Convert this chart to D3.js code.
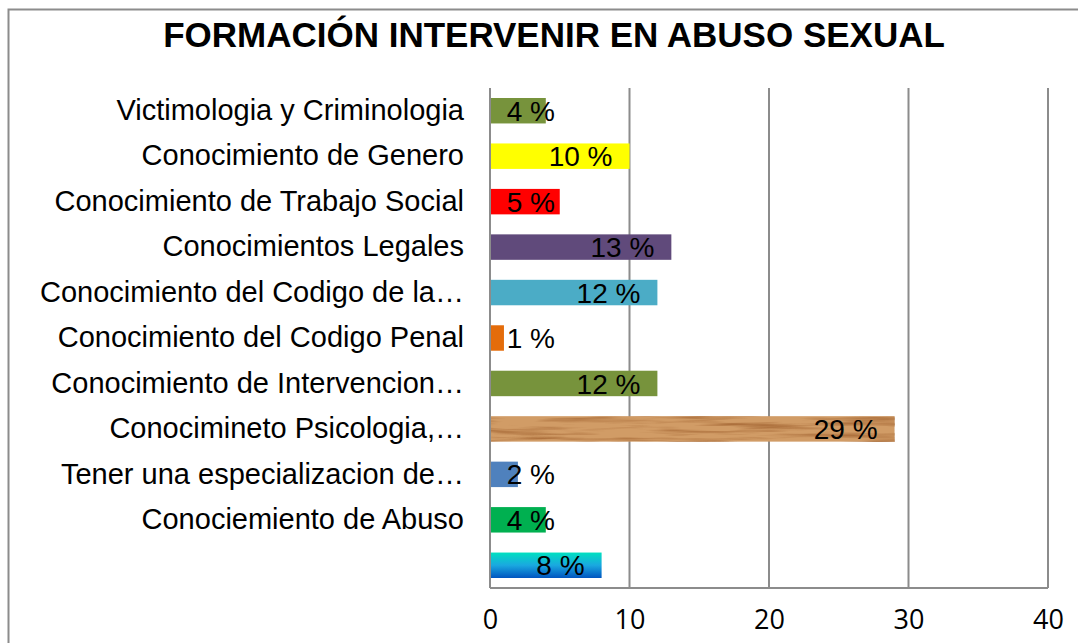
<!DOCTYPE html>
<html>
<head>
<meta charset="utf-8">
<script src="https://cdn.jsdelivr.net/npm/d3@7.9.0/dist/d3.min.js"></script>
<style>
  body { margin: 0; background: #fff; }
  text { font-family: "Liberation Sans", Arial, sans-serif; }
</style>
</head>
<body>
<svg id="chart" width="1078" height="643"></svg>
<script>
const categories = [
  "Victimologia y Criminologia",
  "Conocimiento de Genero",
  "Conocimiento de Trabajo Social",
  "Conocimientos Legales",
  "Conocimiento del Codigo de la…",
  "Conocimiento del Codigo Penal",
  "Conocimiento de Intervencion…",
  "Conocimineto Psicologia,…",
  "Tener una especializacion de…",
  "Conociemiento de Abuso",
  ""
];
const values = [4, 10, 5, 13, 12, 1, 12, 29, 2, 4, 8];
const barColors = ["#77933C", "#FFFF00", "#FF0000", "#604A7B", "#4BACC6", "#E46C0A",
  "#77933C", "#D19C66", "#4F81BD", "#00B050", "url(#cyanBlue)"];
const woodBar = 7; // the textured bar
const xTicks = [0, 10, 20, 30, 40];

const margin = { top: 88, right: 30, bottom: 55, left: 490 };
const width = 1048 - margin.left;
const height = 588 - margin.top;

const svg = d3.select("#chart");

// textures / gradients
const defs = svg.append("defs");
const grad = defs.append("linearGradient").attr("id", "cyanBlue")
  .attr("x1", 0).attr("y1", 0).attr("x2", 0).attr("y2", 1);
grad.append("stop").attr("offset", "0%").attr("stop-color", "#00E0C0");
grad.append("stop").attr("offset", "50%").attr("stop-color", "#1AA8E0");
grad.append("stop").attr("offset", "100%").attr("stop-color", "#0055C0");

const woodFilter = defs.append("filter").attr("id", "woodNoise")
  .attr("x", 0).attr("y", 0).attr("width", 1).attr("height", 1)
  .attr("color-interpolation-filters", "sRGB");
woodFilter.append("feTurbulence").attr("type", "fractalNoise")
  .attr("baseFrequency", "0.012 0.2").attr("numOctaves", 3).attr("seed", 7).attr("result", "n");
woodFilter.append("feColorMatrix").attr("type", "matrix").attr("in", "n")
  .attr("values", "0 0 0 0 0.66  0 0 0 0 0.42  0 0 0 0 0.22  2.6 0 0 0 -1.15");

// outer border
svg.append("rect")
  .attr("x", 8.5).attr("y", 9.5).attr("width", 1100).attr("height", 700)
  .attr("fill", "none").attr("stroke", "#8c8c8c").attr("stroke-width", 2);

svg.append("text")
  .attr("x", 554).attr("y", 47)
  .attr("text-anchor", "middle")
  .attr("font-size", 35).attr("font-weight", "bold")
  .text("FORMACIÓN INTERVENIR EN ABUSO SEXUAL");

const g = svg.append("g").attr("transform", `translate(${margin.left},${margin.top})`);

const x = d3.scaleLinear().domain([0, 40]).range([0, width]);
const y = d3.scaleBand().domain(d3.range(categories.length)).range([0, height]).paddingInner(0.44).paddingOuter(0.22);

// gridlines
g.append("g")
  .selectAll("line")
  .data(xTicks)
  .join("line")
  .attr("x1", d => x(d)).attr("x2", d => x(d))
  .attr("y1", 0).attr("y2", height)
  .attr("stroke", "#8c8c8c").attr("stroke-width", 2);

g.append("line")
  .attr("x1", 0).attr("x2", width).attr("y1", height).attr("y2", height)
  .attr("stroke", "#8c8c8c").attr("stroke-width", 2);

// x axis labels
const xAxis = g.append("g")
  .attr("transform", `translate(0,${height})`)
  .call(d3.axisBottom(x).tickValues(xTicks).tickSize(0).tickPadding(22));
xAxis.select(".domain").remove();
xAxis.selectAll("text")
  .attr("font-size", 27).attr("fill", "#000")
  .style("font-family", "'Open Sans', 'Liberation Sans', sans-serif");

// y axis labels
const yAxis = g.append("g")
  .call(d3.axisLeft(y).tickFormat(i => categories[i]).tickSize(0).tickPadding(26));
yAxis.select(".domain").remove();
yAxis.selectAll("text")
  .attr("font-size", 29).attr("fill", "#000");

// bars
g.selectAll(".bar")
  .data(values)
  .join("rect")
  .attr("class", "bar")
  .attr("x", x(0) + 1)
  .attr("y", (d, i) => y(i))
  .attr("width", d => x(d) - x(0) - 1)
  .attr("height", y.bandwidth())
  .attr("fill", (d, i) => barColors[i]);

// wood grain streaks over the textured bar
g.append("rect")
  .attr("x", x(0) + 1)
  .attr("y", y(woodBar))
  .attr("width", x(values[woodBar]) - x(0) - 1)
  .attr("height", y.bandwidth())
  .attr("fill", "#000")
  .attr("filter", "url(#woodNoise)");

// data labels
g.selectAll(".lbl")
  .data(values)
  .join("text")
  .attr("class", "lbl")
  .attr("x", d => Math.max(x(d) - 17, x(0) + 65))
  .attr("y", (d, i) => y(i) + y.bandwidth() / 2)
  .attr("dy", "0.36em")
  .attr("text-anchor", "end")
  .attr("font-size", 28)
  .text(d => d + " %");
</script>
</body>
</html>
